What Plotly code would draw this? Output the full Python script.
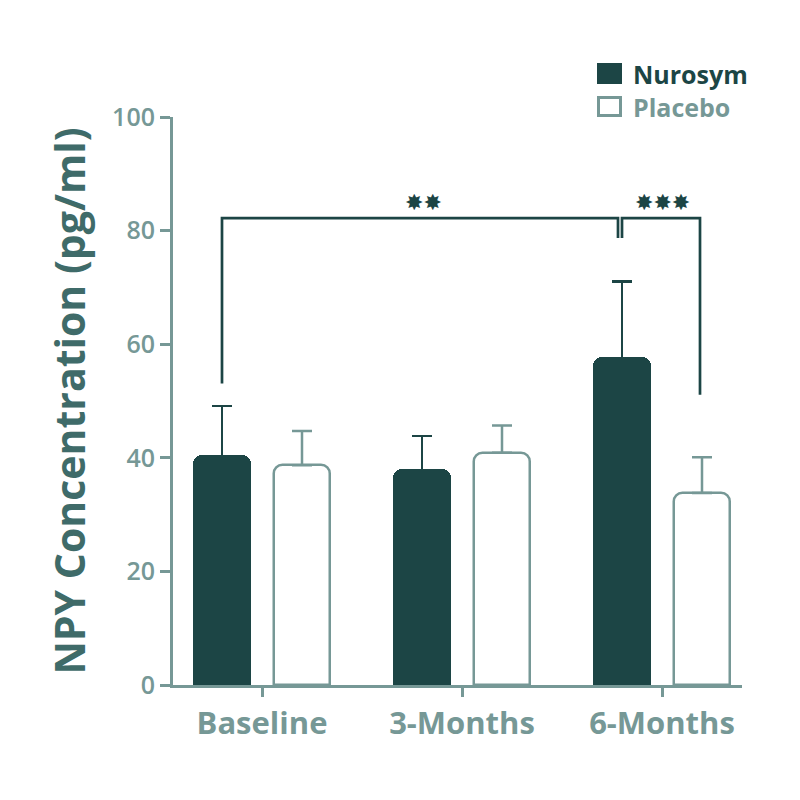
import plotly.graph_objects as go

categories = ["Baseline", "3-Months", "6-Months"]
nurosym_mean = [40.5, 38.0, 57.8]
nurosym_err = [8.6, 5.8, 13.2]
placebo_mean = [38.7, 40.9, 33.8]
placebo_err = [6.0, 4.8, 6.3]

DARK = "#1c4545"
TEAL = "#769896"
TITLE = "#3f6b69"
FONT = "Open Sans"

xpos = list(range(len(categories)))
bw = 0.2875
shift = 0.2

fig = go.Figure()
fig.add_trace(go.Bar(
    x=xpos, y=nurosym_mean, width=bw, offset=-shift - bw / 2,
    marker=dict(color=DARK, line=dict(color=DARK, width=0)),
    # lower whisker kept short so it stays hidden inside the dark bar
    error_y=dict(type="data", array=nurosym_err, arrayminus=[1.5] * len(xpos), symmetric=False,
                 color=DARK, thickness=2.5, width=10),
    name="Nurosym", showlegend=False,
))
fig.add_trace(go.Bar(
    x=xpos, y=placebo_mean, width=bw - 0.012, offset=shift - (bw - 0.012) / 2,
    marker=dict(color="white", line=dict(color=TEAL, width=2.5)),
    error_y=dict(type="data", array=placebo_err, arrayminus=[0] * len(xpos), symmetric=False,
                 color=TEAL, thickness=2.5, width=10),
    name="Placebo", showlegend=False,
))

# significance brackets
top = 82.2
b1_left_bottom = nurosym_mean[0] + nurosym_err[0] + 4.0
b2_right_bottom = placebo_mean[2] + placebo_err[2] + 11.0
line = dict(color=DARK, width=2.7)
fig.add_shape(type="path",
              path=f"M -0.2,{b1_left_bottom} L -0.2,{top} L 1.78,{top} L 1.78,78.7",
              line=line, layer="above")
fig.add_shape(type="path",
              path=f"M 1.80,78.7 L 1.80,{top} L 2.19,{top} L 2.19,{b2_right_bottom}",
              line=line, layer="above")
fig.add_annotation(x=0.805, y=top + 0.2, text="✸✸", showarrow=False, yanchor="bottom",
                   font=dict(family="DejaVu Sans", size=22, color=DARK))
fig.add_annotation(x=2.0, y=top + 0.2, text="✸✸✸", showarrow=False, yanchor="bottom",
                   font=dict(family="DejaVu Sans", size=22, color=DARK))

# legend (page is offset by the 8px body margin)
X0, Y0, PW, PH = 165, 677, 569, 568
def px(x):
    return (x - 8 - X0) / PW
def py(y):
    return (Y0 - (y - 8)) / PH

fig.add_shape(type="rect", xref="paper", yref="paper",
              x0=px(597), x1=px(622), y0=py(84), y1=py(63),
              fillcolor=DARK, line=dict(color=DARK, width=0))
fig.add_shape(type="rect", xref="paper", yref="paper",
              x0=px(598.5), x1=px(620.5), y0=py(115.5), y1=py(97.5),
              fillcolor="white", line=dict(color=TEAL, width=3))
fig.add_annotation(xref="paper", yref="paper", x=px(631), y=py(74),
                   text="Nurosym", showarrow=False, xanchor="left", yanchor="middle",
                   font=dict(family=FONT, size=25, color=DARK, weight=700))
fig.add_annotation(xref="paper", yref="paper", x=px(631), y=py(107),
                   text="Placebo", showarrow=False, xanchor="left", yanchor="middle",
                   font=dict(family=FONT, size=25, color=TEAL, weight=700))

fig.update_layout(
    width=800, height=800,
    margin=dict(l=165, r=66, t=109, b=123, pad=0),
    paper_bgcolor="white", plot_bgcolor="white",
    barcornerradius=9,
    bargap=0,
    font=dict(family=FONT, color=TEAL),
)
fig.update_xaxes(
    range=[-0.445, 2.4], tickvals=xpos, ticktext=categories,
    showgrid=False, zeroline=False, showline=True, linecolor=TEAL, linewidth=3,
    ticks="outside", ticklen=9, tickwidth=2.5, tickcolor=TEAL,
    tickfont=dict(family=FONT, size=31, color=TEAL, weight=700),
)
fig.update_yaxes(
    range=[0, 100], tickvals=[0, 20, 40, 60, 80, 100],
    showgrid=False, zeroline=False, showline=True, linecolor=TEAL, linewidth=3,
    ticks="outside", ticklen=10, tickwidth=3, tickcolor=TEAL,
    tickfont=dict(family=FONT, size=25, color=TEAL, weight=600),
    title=dict(text="NPY Concentration (pg/ml)", standoff=14,
               font=dict(family=FONT, size=41, color=TITLE, weight=700)),
)

fig.write_html("out.html")
